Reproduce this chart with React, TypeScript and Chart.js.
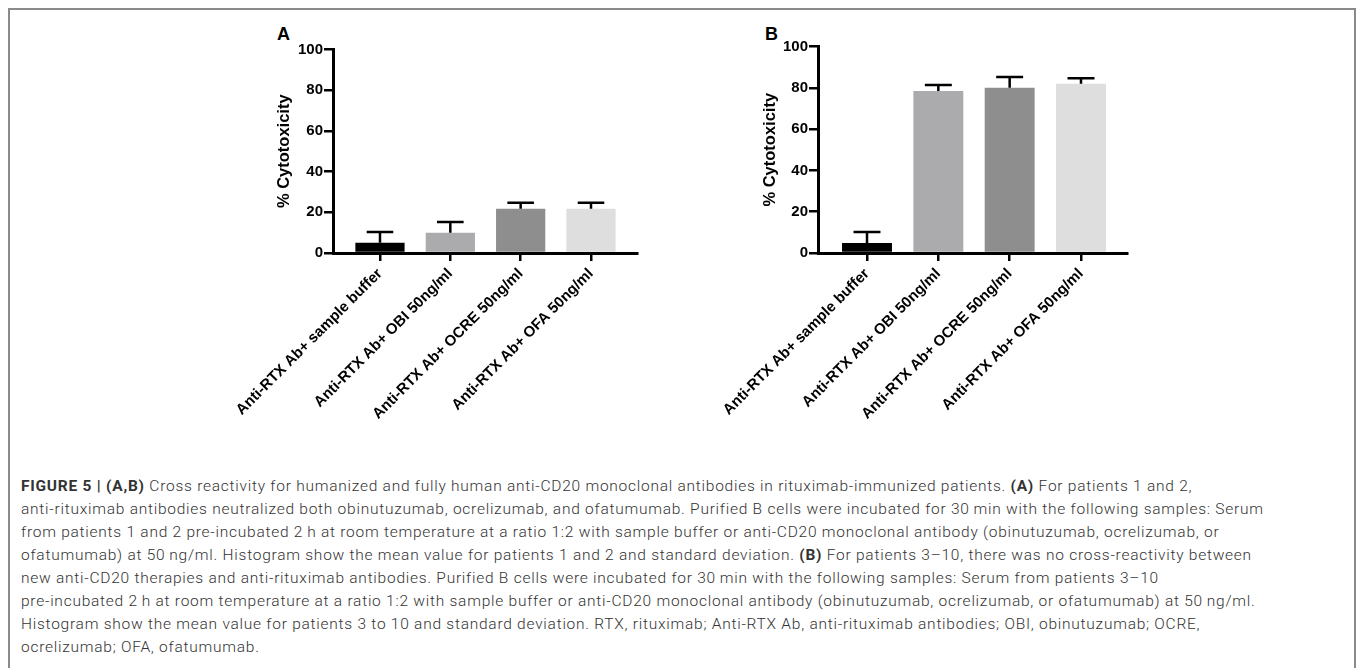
import React, { useEffect, useRef } from "react";
import { Chart, registerables } from "chart.js";
Chart.register(...registerables);

const categories = [
  "Anti-RTX Ab+ sample buffer",
  "Anti-RTX Ab+ OBI 50ng/ml",
  "Anti-RTX Ab+ OCRE 50ng/ml",
  "Anti-RTX Ab+ OFA 50ng/ml",
];
const meanA = [5, 10, 21.7, 21.7];
const sdA = [5.3, 5.2, 3.0, 3.0];
const meanB = [4.9, 78.5, 80, 82];
const sdB = [5.3, 2.9, 5.2, 2.6];
const barColors = ["#000000", "#ababae", "#8e8e8e", "#dedede"];
const yTickValues = [0, 20, 40, 60, 80, 100];
const yTitle = "% Cytotoxicity";

type Layout = {
  left: number; top: number; width: number; height: number;
  padLeft: number; padRight: number; padTop: number;
  yWidth: number; xHeight: number; xMin: number; xMax: number;
};

const TITLE_SIZE = 16.5;
const TITLE_HALF = (TITLE_SIZE * 1.2) / 2;

const layoutA: Layout = {
  left: 200, top: 30, width: 460, height: 410,
  padLeft: 284.5 - TITLE_HALF - 200, padRight: 23, padTop: 19.5,
  yWidth: 333 - (284.5 - TITLE_HALF), xHeight: 187, xMin: -0.668, xMax: 3.654,
};
const layoutB: Layout = {
  left: 690, top: 30, width: 460, height: 410,
  padLeft: 770.5 - TITLE_HALF - 690, padRight: 23, padTop: 16.5,
  yWidth: 818 - (770.5 - TITLE_HALF), xHeight: 187, xMin: -0.687, xMax: 3.645,
};

const errorBarPlugin = {
  id: "errorBars",
  afterDatasetsDraw(chart: any, _args: any, opts: any) {
    const sds: number[] = opts.sds || [];
    const means: number[] = opts.means || [];
    const meta = chart.getDatasetMeta(0);
    const y = chart.scales.y;
    const ctx = chart.ctx;
    ctx.save();
    ctx.strokeStyle = "#000";
    ctx.lineWidth = 2.5;
    meta.data.forEach((bar: any, i: number) => {
      const yTop = y.getPixelForValue(means[i] + sds[i]);
      const yBase = y.getPixelForValue(means[i]);
      const half = bar.width * 0.27;
      ctx.beginPath();
      ctx.moveTo(bar.x, yBase);
      ctx.lineTo(bar.x, yTop);
      ctx.moveTo(bar.x - half, yTop);
      ctx.lineTo(bar.x + half, yTop);
      ctx.stroke();
    });
    ctx.restore();
  },
};

const FONT = "'Liberation Sans', Arial, sans-serif";

function Panel({ means, sds, L }: { means: number[]; sds: number[]; L: Layout }) {
  const ref = useRef<HTMLCanvasElement>(null);
  useEffect(() => {
    if (!ref.current) return;
    const chart = new Chart(ref.current, {
      type: "bar",
      data: {
        datasets: [
          {
            data: means.map((v, i) => ({ x: i, y: v })),
            backgroundColor: barColors,
            borderWidth: 0,
            categoryPercentage: 1,
            barPercentage: 0.7,
          } as any,
        ],
      },
      options: {
        animation: false,
        responsive: false,
        devicePixelRatio: 1,
        layout: { padding: { left: L.padLeft, right: L.padRight, top: L.padTop, bottom: 0 } },
        plugins: {
          legend: { display: false },
          tooltip: { enabled: false },
          errorBars: { means, sds },
        } as any,
        scales: {
          x: {
            type: "linear",
            offset: false,
            min: L.xMin,
            max: L.xMax,
            afterBuildTicks: (s: any) => {
              s.ticks = categories.map((_, i) => ({ value: i }));
            },
            afterFit: (s: any) => {
              s.height = L.xHeight;
            },
            ticks: {
              autoSkip: false,
              minRotation: 45,
              maxRotation: 45,
              padding: 4,
              color: "#000",
              font: { family: FONT, size: 15, weight: "bold" },
              callback: (v: any) => categories[v as number] ?? "",
            },
            grid: { offset: false, drawOnChartArea: false, drawTicks: true, tickLength: 8, color: "#000", lineWidth: 2.5 },
            border: { display: true, color: "#000", width: 3 },
          },
          y: {
            min: 0,
            max: 100,
            afterBuildTicks: (s: any) => {
              s.ticks = yTickValues.map((v) => ({ value: v }));
            },
            afterFit: (s: any) => {
              s.width = L.yWidth;
            },
            ticks: {
              padding: 1,
              color: "#000",
              font: { family: FONT, size: 15, weight: "bold" },
            },
            title: {
              display: true,
              text: yTitle,
              color: "#000",
              padding: 0,
              font: { family: FONT, size: TITLE_SIZE, weight: "bold", lineHeight: 1.2 },
            },
            grid: { drawOnChartArea: false, drawTicks: true, tickLength: 9, color: "#000", lineWidth: 2.5 },
            border: { display: true, color: "#000", width: 3 },
          },
        },
      } as any,
      plugins: [errorBarPlugin],
    });
    return () => chart.destroy();
  }, []);
  return (
    <canvas
      ref={ref}
      width={L.width}
      height={L.height}
      style={{ position: "absolute", left: L.left - 8, top: L.top - 8, width: L.width, height: L.height }}
    />
  );
}

const T = "\u2009";

export default function App() {
  const letter: React.CSSProperties = {
    position: "absolute",
    fontFamily: FONT,
    fontWeight: "bold",
    fontSize: 18,
    lineHeight: "18px",
    color: "#000",
  };
  const capStyle: React.CSSProperties = {
    position: "absolute",
    left: 13,
    top: 467,
    fontFamily: "Roboto, sans-serif",
    fontWeight: 300,
    fontSize: 15.5,
    letterSpacing: "0.75px",
    lineHeight: "23px",
    color: "#333333",
    whiteSpace: "nowrap",
  };
  const bold: React.CSSProperties = { fontWeight: 700 };
  return (
    <div
      style={{
        position: "fixed",
        left: 8,
        top: 8,
        width: 1348,
        height: 660,
        overflow: "hidden",
        background: "#fff",
      }}
    >
      <div
        style={{
          position: "absolute",
          left: 0,
          top: 0,
          width: 1344,
          height: 720,
          border: "2px solid #8a8a8a",
        }}
      />
      <div style={{ ...letter, left: 269, top: 17 }}>A</div>
      <div style={{ ...letter, left: 757, top: 17 }}>B</div>
      <Panel means={meanA} sds={sdA} L={layoutA} />
      <Panel means={meanB} sds={sdB} L={layoutB} />
      <div style={capStyle}>
        <div><b style={bold}>FIGURE 5 | (A,B)</b> Cross reactivity for humanized and fully human anti-CD20 monoclonal antibodies in rituximab-immunized patients. <b style={bold}>(A)</b> For patients 1 and 2,</div>
        <div>anti-rituximab antibodies neutralized both obinutuzumab, ocrelizumab, and ofatumumab. Purified B cells were incubated for 30{T}min with the following samples: Serum</div>
        <div>from patients 1 and 2 pre-incubated 2{T}h at room temperature at a ratio 1:2 with sample buffer or anti-CD20 monoclonal antibody (obinutuzumab, ocrelizumab, or</div>
        <div>ofatumumab) at 50{T}ng/ml. Histogram show the mean value for patients 1 and 2 and standard deviation. <b style={bold}>(B)</b> For patients 3–10, there was no cross-reactivity between</div>
        <div>new anti-CD20 therapies and anti-rituximab antibodies. Purified B cells were incubated for 30{T}min with the following samples: Serum from patients 3–10</div>
        <div>pre-incubated 2{T}h at room temperature at a ratio 1:2 with sample buffer or anti-CD20 monoclonal antibody (obinutuzumab, ocrelizumab, or ofatumumab) at 50{T}ng/ml.</div>
        <div>Histogram show the mean value for patients 3 to 10 and standard deviation. RTX, rituximab; Anti-RTX Ab, anti-rituximab antibodies; OBI, obinutuzumab; OCRE,</div>
        <div>ocrelizumab; OFA, ofatumumab.</div>
      </div>
    </div>
  );
}
